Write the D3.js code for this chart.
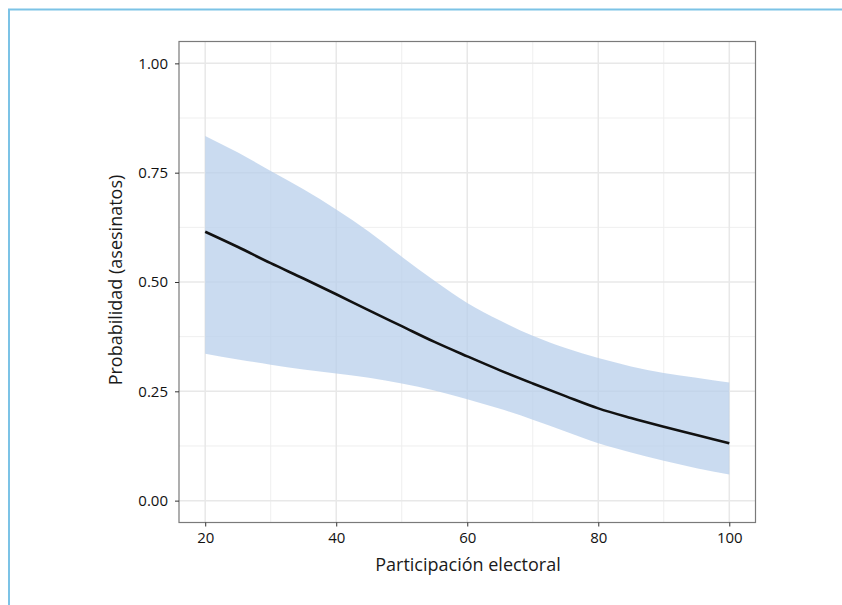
<!DOCTYPE html>
<html>
<head>
<meta charset="utf-8">
<script src="https://cdn.jsdelivr.net/npm/d3@7"></script>
<style>
  body { margin: 0; background: #fff; }
  svg text { font-family: "Open Sans", "Noto Sans", sans-serif; fill: #1a1a1a; }
</style>
</head>
<body>
<svg id="chart" width="842" height="605"></svg>
<script>
// Values.
var turnout = [20, 25, 30, 35, 40, 45, 50, 55, 60, 65, 70, 75, 80, 85, 90, 95, 100];
var probMean = [0.615, 0.580, 0.543, 0.508, 0.472, 0.435, 0.399, 0.363, 0.330, 0.298, 0.268, 0.239, 0.211, 0.189, 0.169, 0.150, 0.131];
var probLow = [0.336, 0.323, 0.311, 0.300, 0.291, 0.281, 0.268, 0.252, 0.232, 0.210, 0.185, 0.158, 0.131, 0.110, 0.091, 0.074, 0.060];
var probHigh = [0.834, 0.796, 0.754, 0.712, 0.666, 0.615, 0.558, 0.503, 0.452, 0.412, 0.377, 0.349, 0.326, 0.307, 0.292, 0.281, 0.270];
var xTicks = [20, 40, 60, 80, 100];
var yTicks = [0, 0.25, 0.5, 0.75, 1];

var svg = d3.select("#chart");

// light blue frame lines at top / left of the page
svg.append("line").attr("x1", 8).attr("y1", 9.5).attr("x2", 842).attr("y2", 9.5)
  .attr("stroke", "#7cc3e6").attr("stroke-width", 2);
svg.append("line").attr("x1", 9).attr("y1", 9).attr("x2", 9).attr("y2", 605)
  .attr("stroke", "#7cc3e6").attr("stroke-width", 2);

var panel = { left: 179, top: 41.5, right: 755.5, bottom: 522.5 };

var x = d3.scaleLinear().domain([16, 104]).range([panel.left, panel.right]);
var y = d3.scaleLinear().domain([-0.05, 1.05]).range([panel.bottom, panel.top]);

var g = svg.append("g");

// minor grid
d3.range(30, 100, 20).forEach(function(v) {
  g.append("line").attr("x1", x(v)).attr("x2", x(v)).attr("y1", panel.top).attr("y2", panel.bottom)
    .attr("stroke", "#efefef").attr("stroke-width", 1);
});
[0.125, 0.375, 0.625, 0.875].forEach(function(v) {
  g.append("line").attr("y1", y(v)).attr("y2", y(v)).attr("x1", panel.left).attr("x2", panel.right)
    .attr("stroke", "#efefef").attr("stroke-width", 1);
});
// major grid
xTicks.forEach(function(v) {
  g.append("line").attr("x1", x(v)).attr("x2", x(v)).attr("y1", panel.top).attr("y2", panel.bottom)
    .attr("stroke", "#e8e8e8").attr("stroke-width", 1.5);
});
yTicks.forEach(function(v) {
  g.append("line").attr("y1", y(v)).attr("y2", y(v)).attr("x1", panel.left).attr("x2", panel.right)
    .attr("stroke", "#e8e8e8").attr("stroke-width", 1.5);
});

var rows = turnout.map(function(t, i) {
  return { t: t, m: probMean[i], lo: probLow[i], hi: probHigh[i] };
});

var area = d3.area()
  .x(function(d) { return x(d.t); })
  .y0(function(d) { return y(d.lo); })
  .y1(function(d) { return y(d.hi); })
  .curve(d3.curveMonotoneX);

g.append("path").datum(rows).attr("d", area)
  .attr("fill", "#b8cfeb").attr("fill-opacity", 0.75);

var line = d3.line()
  .x(function(d) { return x(d.t); })
  .y(function(d) { return y(d.m); })
  .curve(d3.curveMonotoneX);

g.append("path").datum(rows).attr("d", line)
  .attr("fill", "none").attr("stroke", "#111").attr("stroke-width", 2.6);

// panel border
g.append("rect").attr("x", panel.left).attr("y", panel.top)
  .attr("width", panel.right - panel.left).attr("height", panel.bottom - panel.top)
  .attr("fill", "none").attr("stroke", "#7a7a7a").attr("stroke-width", 1.2);

// axes
var xAxis = d3.axisBottom(x).tickValues(xTicks).tickSize(4).tickPadding(6).tickFormat(d3.format("d"));
var yAxis = d3.axisLeft(y).tickValues(yTicks).tickSize(4).tickPadding(7).tickFormat(d3.format(".2f"));

var gx = svg.append("g").attr("transform", "translate(0," + panel.bottom + ")").call(xAxis);
var gy = svg.append("g").attr("transform", "translate(" + panel.left + ",0)").call(yAxis);
[gx, gy].forEach(function(a) {
  a.select(".domain").remove();
  a.selectAll(".tick line").attr("stroke", "#333");
  a.selectAll(".tick text").attr("font-size", 15).style("fill", "#111");
});

svg.append("text").attr("x", 468).attr("y", 571)
  .attr("text-anchor", "middle").attr("font-size", 18).text("Participación electoral");

svg.append("text").attr("transform", "translate(122," + 280 + ") rotate(-90)")
  .attr("text-anchor", "middle").attr("font-size", 18).text("Probabilidad (asesinatos)");
</script>
</body>
</html>
